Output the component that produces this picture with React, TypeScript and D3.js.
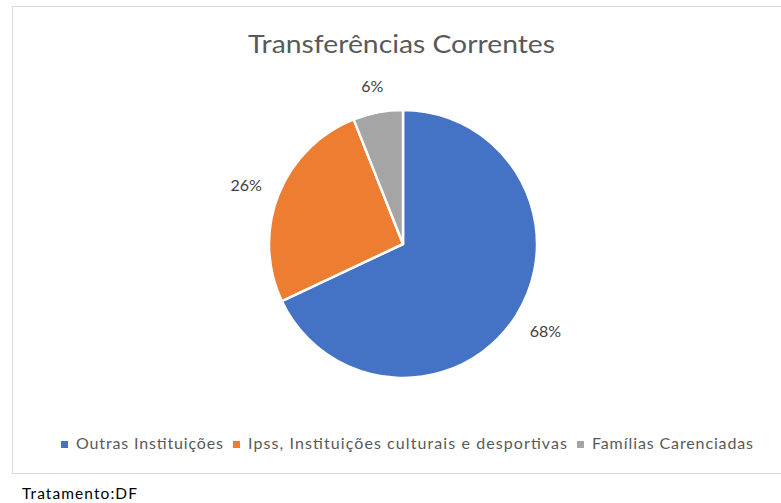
import React, { useEffect, useRef } from "react";
import * as d3 from "d3";

const categories = ["Outras Instituições", "Ipss, Instituições culturais e desportivas", "Famílias Carenciadas"];
const values = [68, 26, 6];
const colors = ["#4472C4", "#ED7D31", "#A5A5A5"];
const title = "Transferências Correntes";
const footnote = "Tratamento:DF";

export default function App() {
  const ref = useRef<SVGSVGElement>(null);
  useEffect(() => {
    const svg = d3.select(ref.current);
    svg.selectAll("*").remove();
    const font = "Lato, 'Open Sans', sans-serif";

    // chart border
    svg.append("rect").attr("x", 12.5).attr("y", 6.5).attr("width", 780).attr("height", 467)
      .attr("fill", "#fff").attr("stroke", "#D9D9D9").attr("stroke-width", 1);

    svg.append("text").attr("x", 248).attr("y", 53)
      .attr("font-family", font).attr("font-size", 25).attr("fill", "#595959")
      .attr("textLength", 307).attr("lengthAdjust", "spacingAndGlyphs").text(title);

    const cx = 403, cy = 244, r = 134;
    const pie = d3.pie<number>().sort(null).value(d => d)(values);
    const arc = d3.arc<d3.PieArcDatum<number>>().innerRadius(0).outerRadius(r);
    const g = svg.append("g").attr("transform", `translate(${cx},${cy})`);
    g.selectAll("path").data(pie).enter().append("path")
      .attr("d", arc as any).attr("fill", (_d, i) => colors[i])
      .attr("stroke", "#fff").attr("stroke-width", 2.5).attr("stroke-linejoin", "round");

    const total = d3.sum(values);
    const gap = 19;
    pie.forEach((d) => {
      const a = (d.startAngle + d.endAngle) / 2;
      const s = Math.sin(a), c = -Math.cos(a);
      const label = `${Math.round((d.value / total) * 100)}%`;
      const t = g.append("text").attr("font-family", font).attr("font-size", 16).attr("fill", "#404040")
        .attr("text-anchor", "middle").attr("dominant-baseline", "central").text(label);
      const w = (t.node() as SVGTextElement).getComputedTextLength();
      const h = 16;
      const px = (r + gap) * s + (w / 2) * s;
      const py = (r + gap) * c + (h / 2) * c;
      t.attr("x", px).attr("y", py);
    });

    // legend
    const textWidths = [147, 319, 161];
    let x = 61;
    categories.forEach((cat, i) => {
      svg.append("rect").attr("x", x).attr("y", 441).attr("width", 7).attr("height", 7).attr("fill", colors[i]);
      svg.append("text").attr("x", x + 15).attr("y", 449)
        .attr("font-family", font).attr("font-size", 16).attr("fill", "#595959")
        .attr("textLength", textWidths[i]).attr("lengthAdjust", "spacing").text(cat);
      x += 15 + textWidths[i] + 10;
    });

    svg.append("text").attr("x", 22).attr("y", 499).attr("font-family", font).attr("font-size", 15.5)
      .attr("fill", "#000").attr("textLength", 115).attr("lengthAdjust", "spacing").text(footnote);
  }, []);
  return (
    <svg ref={ref} width={781} height={503} style={{ position: "absolute", left: 0, top: 0, background: "#fff" }} />
  );
}
